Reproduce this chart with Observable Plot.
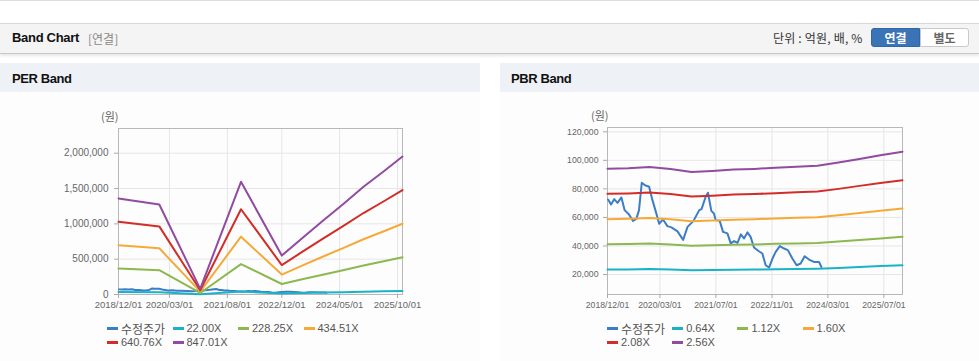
<!DOCTYPE html>
<html><head><meta charset="utf-8">
<script src="https://cdn.jsdelivr.net/npm/d3@7"></script>
<script src="https://cdn.jsdelivr.net/npm/@observablehq/plot@0.6"></script>
<style>
body{margin:0;width:979px;height:361px;overflow:hidden;background:#fff;position:relative;font-family:"Liberation Sans","Noto Sans CJK KR",sans-serif;color:#222}
.abs{position:absolute}
#topline{left:0;top:0;width:979px;height:1px;background:#dcdcdc}
#header{left:0;top:23px;width:979px;height:29px;background:#f4f4f4;border-top:1px solid #d8d8d8;border-bottom:1px solid #c8c8c8;box-shadow:0 2px 3px rgba(0,0,0,0.10)}
#hTitle{left:12px;top:30px;font-size:13px;font-weight:bold;letter-spacing:-0.3px;color:#111}
#hSub{left:88px;top:31px;font-size:12px;color:#888;font-family:"Noto Sans CJK KR",sans-serif;line-height:15px}
#unit{left:773px;top:30px;font-size:12px;color:#333;font-family:"Noto Sans CJK KR",sans-serif;line-height:16px;letter-spacing:0.2px}
#btn1{left:871px;top:28px;width:49px;height:19px;background:#3a74b6;border:1px solid #2f66a6;border-radius:3px 0 0 3px;color:#fff;font-size:12px;font-weight:bold;text-align:center;line-height:17px;font-family:"Noto Sans CJK KR",sans-serif;box-sizing:border-box}
#btn2{left:920px;top:28px;width:49px;height:19px;background:#fff;border:1px solid #c9c9c9;border-radius:0 3px 3px 0;color:#666;font-size:12px;font-weight:bold;text-align:center;line-height:17px;font-family:"Noto Sans CJK KR",sans-serif;box-sizing:border-box}
.pHead{top:63px;height:29px;background:#eef2f7}
.pBody{top:92px;height:269px;background:#fdfdfd}
.pTitle{top:71px;font-size:13px;font-weight:bold;letter-spacing:-0.4px;color:#111}
.unitLbl{font-size:11px;color:#666;font-family:"Noto Sans CJK KR",sans-serif;line-height:14px}
.legItem{position:absolute;display:flex;align-items:center;font-size:11px;color:#555;font-family:"Liberation Sans","Noto Sans CJK KR",sans-serif;line-height:13px;white-space:nowrap}
.legItem span.sw{display:inline-block;width:11px;height:3px;margin-right:3px}
.legItem span.ko{font-family:"Noto Sans CJK KR",sans-serif;font-size:12px}
</style></head><body>
<div id="topline" class="abs"></div>
<div id="header" class="abs"></div>
<div id="hTitle" class="abs">Band Chart</div>
<div id="hSub" class="abs">[연결]</div>
<div id="unit" class="abs">단위 : 억원, 배, %</div>
<div id="btn1" class="abs">연결</div>
<div id="btn2" class="abs">별도</div>

<div class="abs pHead" style="left:0;width:480px"></div>
<div class="abs pBody" style="left:0;width:480px"></div>
<div class="abs pTitle" style="left:12px">PER Band</div>
<div class="abs pHead" style="left:500px;width:479px"></div>
<div class="abs pBody" style="left:500px;width:479px"></div>
<div class="abs pTitle" style="left:511px">PBR Band</div>

<div class="abs unitLbl" style="left:101px;top:109px">(원)</div>
<div class="abs unitLbl" style="left:591px;top:108px">(원)</div>

<div id="per" class="abs" style="left:0;top:92px"></div>
<div id="pbr" class="abs" style="left:500px;top:92px"></div>
<div id="perLeg"></div>
<div id="pbrLeg"></div>

<script>
// ---------- data ----------
const seriesColors = ["#3c7dc8", "#1ab3c6", "#8cb850", "#f5aa37", "#d22d28", "#914ba0"];

// adjusted price (수정주가)
const priceDates = ["2018-12-06","2019-01-01","2019-01-28","2019-02-26","2019-04-01","2019-04-29","2019-06-06","2019-07-10","2019-08-09","2019-09-01","2019-09-25","2019-10-23","2019-11-28","2019-12-27","2020-02-03","2020-02-23","2020-03-28","2020-05-05","2020-06-09","2020-08-01","2020-09-19","2020-10-27","2020-12-18","2021-02-06","2021-02-26","2021-04-03","2021-04-23","2021-05-22","2021-06-14","2021-06-29","2021-08-03","2021-09-01","2021-10-09","2021-11-07","2021-12-06","2022-01-05","2022-02-03","2022-03-02","2022-04-01","2022-04-29","2022-05-28","2022-07-10","2022-08-09","2022-09-07","2022-10-06","2022-11-05","2022-12-03","2023-01-08","2023-02-14","2023-03-19","2023-04-27","2023-06-03","2023-07-08","2023-08-12","2023-09-19","2023-11-01","2023-12-15","2024-01-05"];
const priceValues = [72600,69100,72800,70200,74000,65100,62100,57600,59000,65100,84300,82500,81500,72100,61600,55500,58600,53900,53000,50200,44300,53400,57600,65100,65800,74500,77300,64600,62800,58100,57600,49900,48800,41800,43400,42200,48100,45300,49500,46400,38900,36300,34700,26500,24900,31200,35900,39900,38200,37100,31200,26500,27700,32800,30500,28800,28800,25300];

// PER band
const perLabels = ["수정주가", "22.00X", "228.25X", "434.51X", "640.76X", "847.01X"];
const perDates = ["2018-12-01","2019-12-01","2020-12-01","2021-12-01","2022-12-01","2023-06-01","2023-12-01","2024-06-01","2024-12-01","2025-06-01","2025-11-15"];
const per22 = [35300,33100,2100,41400,14300,20700,27100,33200,39600,45300,50700];
const per228 = [366600,343500,21600,430000,148400,214600,280700,344700,410900,470200,526300];
const per434 = [697800,653900,41100,818600,282400,408400,534400,656100,782100,895100,1002000];
const per640 = [1029100,964300,60600,1207200,416500,602300,788100,967500,1153400,1320000,1477600];
const per847 = [1360300,1274700,80000,1595800,550600,796200,1041800,1279000,1524600,1744900,1953200];
const perXTicks = ["2018-12-01","2020-03-01","2021-08-01","2022-12-01","2024-05-01","2025-10-01"];
const perYTicks = [0, 500000, 1000000, 1500000, 2000000];

// PBR band
const pbrLabels = ["수정주가", "0.64X", "1.12X", "1.60X", "2.08X", "2.56X"];
const pbrDates = ["2018-12-01","2019-06-01","2019-12-01","2020-06-01","2020-12-01","2021-06-01","2021-12-01","2022-06-01","2022-12-01","2023-06-01","2023-12-01","2024-06-01","2024-12-01","2025-06-01","2025-12-10"];
const pbr064 = [23500,23600,23800,23500,23000,23100,23400,23500,23700,23900,24100,24600,25300,25900,26500];
const pbr112 = [41200,41300,41700,41100,40200,40500,40900,41100,41500,41800,42100,43100,44200,45300,46400];
const pbr160 = [58800,59100,59600,58800,57400,57800,58400,58800,59300,59700,60100,61600,63100,64700,66300];
const pbr208 = [76500,76800,77400,76400,74600,75200,76000,76400,77000,77600,78200,80000,82100,84100,86100];
const pbr256 = [94100,94500,95300,94000,91800,92500,93500,94000,94800,95500,96200,98500,101000,103500,106000];
const pbrXTicks = ["2018-12-01","2020-03-01","2021-07-01","2022-11-01","2024-03-01","2025-07-01"];
const pbrYTicks = [20000, 40000, 60000, 80000, 100000, 120000];

// ---------- helpers ----------
const toRows = (dates, vals) => dates.map((d, i) => ({date: new Date(d), value: vals[i]}));
const fmtDate = d3.utcFormat("%Y/%m/%d");
const fmtNum = d3.format(",");

function lines(seriesList) {
  return seriesList.map((rows, i) => Plot.line(rows, {x: "date", y: "value", stroke: seriesColors[i], strokeWidth: 2, curve: "linear"}));
}

function bandChart(opts) {
  return Plot.plot({
    width: opts.width, height: opts.height,
    marginLeft: opts.ml, marginRight: opts.mr, marginTop: opts.mt, marginBottom: opts.mb,
    style: {fontFamily: "'Liberation Sans', sans-serif", color: "#666", background: "transparent", overflow: "visible"},
    x: {type: "utc", domain: opts.xDomain, label: null},
    y: {domain: opts.yDomain, label: null},
    marks: [
      Plot.gridX({ticks: opts.xTicks, stroke: "#e6e6e6", strokeOpacity: 1}),
      Plot.gridY({ticks: opts.yTicks, stroke: "#e6e6e6", strokeOpacity: 1}),
      Plot.frame({stroke: "#b8b8b8"}),
      Plot.axisY({ticks: opts.yTicks, tickSize: 4, tickPadding: opts.yPad, tickFormat: fmtNum, fontSize: opts.yFont, stroke: "#aaa", fill: "#666", label: null}),
      Plot.axisX({ticks: opts.xTicks, tickSize: 4, tickPadding: 3, tickFormat: fmtDate, fontSize: opts.xFont, stroke: "#aaa", fill: "#666", label: null}),
      ...lines(opts.series)
    ]
  });
}

const priceRows = toRows(priceDates, priceValues);

document.getElementById("per").append(bandChart({
  width: 480, height: 225, ml: 118, mr: 78, mt: 36, mb: 23,
  xDomain: [new Date("2018-12-01"), new Date("2025-11-15")],
  yDomain: [0, 2350000],
  xTicks: perXTicks.map(d => new Date(d)), yTicks: perYTicks,
  yFont: 10, xFont: 9.5, yPad: 6,
  series: [priceRows, toRows(perDates, per22), toRows(perDates, per228), toRows(perDates, per434), toRows(perDates, per640), toRows(perDates, per847)]
}));

document.getElementById("pbr").append(bandChart({
  width: 479, height: 225, ml: 107, mr: 77, mt: 35, mb: 23,
  xDomain: [new Date("2018-12-01"), new Date("2025-12-10")],
  yDomain: [6000, 123000],
  xTicks: pbrXTicks.map(d => new Date(d)), yTicks: pbrYTicks,
  yFont: 8.7, xFont: 8.7, yPad: 5,
  series: [priceRows, toRows(pbrDates, pbr064), toRows(pbrDates, pbr112), toRows(pbrDates, pbr160), toRows(pbrDates, pbr208), toRows(pbrDates, pbr256)]
}));

// ---------- legends ----------
function legend(id, labels, x0, step, y0, rowH) {
  const host = document.getElementById(id);
  labels.forEach((lab, i) => {
    const row = i < 4 ? 0 : 1, col = i < 4 ? i : i - 4;
    const el = document.createElement("div");
    el.className = "legItem";
    el.style.left = (x0 + col * step) + "px";
    el.style.top = (y0 + row * rowH) + "px";
    const sw = document.createElement("span");
    sw.className = "sw"; sw.style.background = seriesColors[i];
    const t = document.createElement("span");
    t.textContent = lab;
    if (/[가-힣]/.test(lab)) t.className = "ko";
    el.append(sw, t);
    host.append(el);
  });
}
legend("perLeg", perLabels, 107, 65.5, 322, 13.5);
legend("pbrLeg", pbrLabels, 607, 65.2, 322, 13.5);
</script>
</body></html>
